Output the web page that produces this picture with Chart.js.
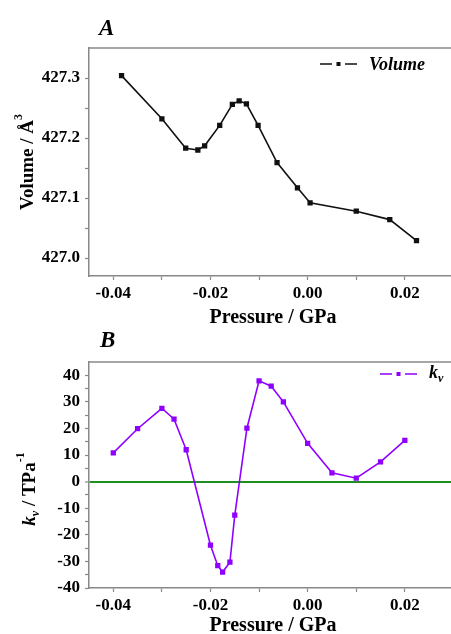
<!DOCTYPE html>
<html>
<head>
<meta charset="utf-8">
<script src="https://cdn.jsdelivr.net/npm/chart.js@4.4.1/dist/chart.umd.min.js"></script>
<style>
    html, body { margin: 0; padding: 0; background: #fff; }
    body { width: 451px; height: 634px; position: relative; overflow: hidden; }
    canvas { position: absolute; left: 0; }
    #chartA { top: 0; }
    #chartB { top: 328px; }
</style>
</head>
<body>
<canvas id="chartA" width="451" height="328"></canvas>
<canvas id="chartB" width="451" height="306"></canvas>
<script>
// --- Data ---
const pressureA = [-0.0383, -0.0300, -0.0251, -0.0226, -0.0212, -0.0181, -0.0155, -0.0141,
    -0.0126, -0.0102, -0.0063, -0.0021, 0.0005, 0.0100, 0.0169, 0.0224];
const volumeA = [427.304, 427.232, 427.183, 427.180, 427.187, 427.221, 427.256, 427.262,
    427.257, 427.221, 427.159, 427.117, 427.092, 427.078, 427.064, 427.029];

const pressureB = [-0.040, -0.035, -0.030, -0.0275, -0.025, -0.020, -0.0185, -0.0175, -0.016, -0.015,
    -0.0125, -0.010, -0.0075, -0.005, 0.000, 0.005, 0.010, 0.015, 0.020];
const kvB = [10.8, 19.9, 27.6, 23.5, 12.0, -23.9, -31.6, -34.0, -30.3, -12.6,
    20.1, 37.9, 35.9, 30.0, 14.4, 3.3, 1.3, 7.4, 15.5];

const xTickVals = [-0.04, -0.03, -0.02, -0.01, 0, 0.01, 0.02];
const xTickLabels = ['-0.04', '', '-0.02', '', '0.00', '', '0.02'];
const yTickValsA = [427.0, 427.05, 427.1, 427.15, 427.2, 427.25, 427.3];
const yTickLabelsA = ['427.0', '', '427.1', '', '427.2', '', '427.3'];
const yTickValsB = [-40, -35, -30, -25, -20, -15, -10, -5, 0, 5, 10, 15, 20, 25, 30, 35, 40];
const yTickLabelsB = ['-40', '', '-30', '', '-20', '', '-10', '', '0', '', '10', '', '20', '', '30', '', '40'];

// --- Styles ---
const SERIF = '"Liberation Serif", "Times New Roman", serif';
const AXIS_GRAY = '#888';
const PURPLE = '#9000ff';
const GREEN = '#1f8f1f';

// draws a run of text pieces (for sub/superscripts); centred unless segs.left
function drawRich(ctx, x, y, segs, rot) {
    ctx.save();
    ctx.translate(x, y);
    if (rot) ctx.rotate(rot);
    ctx.textAlign = 'left';
    ctx.textBaseline = 'alphabetic';
    ctx.fillStyle = '#000';
    let total = 0;
    segs.forEach(s => { ctx.font = s.font; s.w = ctx.measureText(s.text).width; total += s.w; });
    let cx = segs.left === true ? 0 : -total / 2;
    segs.forEach(s => { ctx.font = s.font; ctx.fillText(s.text, cx, s.dy || 0); cx += s.w; });
    ctx.restore();
}

function legendSample(ctx, x0, y, color) {
    ctx.save();
    ctx.strokeStyle = color;
    ctx.fillStyle = color;
    ctx.lineWidth = 1.6;
    ctx.beginPath();
    ctx.moveTo(x0, y); ctx.lineTo(x0 + 12, y);
    ctx.moveTo(x0 + 25, y); ctx.lineTo(x0 + 37, y);
    ctx.stroke();
    ctx.fillRect(x0 + 16.5, y - 2, 4, 4);
    ctx.restore();
}

function makeDecor(opts) {
    return {
        id: 'decor' + opts.name,
        afterDraw(chart) {
            const ctx = chart.ctx;
            const area = chart.chartArea;
            // top frame line
            ctx.save();
            ctx.strokeStyle = AXIS_GRAY;
            ctx.lineWidth = 1.5;
            ctx.beginPath();
            ctx.moveTo(area.left, area.top);
            ctx.lineTo(area.right, area.top);
            ctx.stroke();
            ctx.restore();
            // panel letter
            const lab = [{ text: opts.name, font: 'italic bold 23px ' + SERIF }];
            lab.left = true;
            drawRich(ctx, opts.letterX, opts.letterY, lab);
            // axis titles
            drawRich(ctx, 273, opts.xTitleY, [{ text: 'Pressure / GPa', font: 'bold 20px ' + SERIF }]);
            drawRich(ctx, opts.yTitleX, opts.yTitleY, opts.yTitle, -Math.PI / 2);
            // legend
            legendSample(ctx, opts.legX, opts.legY, opts.color);
            const lt = opts.legText;
            lt.left = true;
            drawRich(ctx, opts.legX + 49, opts.legY + opts.legDy, lt);
        }
    };
}

function axisOpts(vals, labels, min, max, isX) {
    return {
        type: 'linear',
        min: min,
        max: max,
        afterBuildTicks: s => { s.ticks = vals.map(v => ({ value: v })); },
        ticks: {
            autoSkip: false,
            maxRotation: 0,
            color: '#000',
            padding: isX ? 3 : 5,
            font: { family: SERIF, size: 17, weight: 'bold' },
            callback: (v, i) => labels[i]
        },
        border: { display: true, color: AXIS_GRAY, width: 1.5 },
        grid: { drawOnChartArea: false, drawTicks: true, tickLength: 4, tickColor: AXIS_GRAY, tickWidth: 1.2 }
    };
}

function noPad(s) {
    s.paddingLeft = 0; s.paddingRight = 0; s.paddingTop = 0; s.paddingBottom = 0;
}

// --- Chart A ---
const xA = axisOpts(xTickVals, xTickLabels, -0.045, 0.0295, true);
xA.afterFit = s => { s.height = 52; noPad(s); };
const yA = axisOpts(yTickValsA, yTickLabelsA, 426.97, 427.35, false);
yA.afterFit = s => { s.width = 89; noPad(s); };

new Chart(document.getElementById('chartA'), {
    type: 'line',
    data: {
        datasets: [{
            label: 'Volume',
            data: pressureA.map((p, i) => ({ x: p, y: volumeA[i] })),
            borderColor: '#111',
            backgroundColor: '#111',
            borderWidth: 1.6,
            pointStyle: 'rect',
            pointRadius: 2.6,
            tension: 0
        }]
    },
    options: {
        responsive: false,
        animation: false,
        layout: { autoPadding: false, padding: { top: 48, left: 0, right: 0, bottom: 0 } },
        plugins: { legend: { display: false }, tooltip: { enabled: false } },
        scales: { x: xA, y: yA }
    },
    plugins: [makeDecor({
        name: 'A', letterX: 99, letterY: 35, xTitleY: 323,
        yTitleX: 33, yTitleY: 162,
        yTitle: [
            { text: 'Volume / Å', font: 'bold 19px ' + SERIF },
            { text: '3', font: 'bold 12px ' + SERIF, dy: -11 }
        ],
        legX: 320, legY: 64, legDy: 5.5, color: '#111',
        legText: [{ text: 'Volume', font: 'italic bold 18px ' + SERIF }]
    })]
});

// --- Chart B ---
const xB = axisOpts(xTickVals, xTickLabels, -0.045, 0.0295, true);
xB.afterFit = s => { s.height = 46; noPad(s); };
const yB = axisOpts(yTickValsB, yTickLabelsB, -40, 45, false);
yB.afterFit = s => { s.width = 89; noPad(s); };
yB.grid.drawOnChartArea = true;
yB.grid.color = c => (c.tick && c.tick.value === 0) ? GREEN : 'rgba(0,0,0,0)';
yB.grid.lineWidth = c => (c.tick && c.tick.value === 0) ? 2 : 1;

new Chart(document.getElementById('chartB'), {
    type: 'line',
    data: {
        datasets: [{
            label: 'kv',
            data: pressureB.map((p, i) => ({ x: p, y: kvB[i] })),
            borderColor: PURPLE,
            backgroundColor: PURPLE,
            borderWidth: 1.6,
            pointStyle: 'rect',
            pointRadius: 2.6,
            tension: 0
        }]
    },
    options: {
        responsive: false,
        animation: false,
        layout: { autoPadding: false, padding: { top: 34, left: 0, right: 0, bottom: 0 } },
        plugins: { legend: { display: false }, tooltip: { enabled: false } },
        scales: { x: xB, y: yB }
    },
    plugins: [makeDecor({
        name: 'B', letterX: 100, letterY: 19, xTitleY: 303,
        yTitleX: 35, yTitleY: 161,
        yTitle: [
            { text: 'k', font: 'italic bold 19px ' + SERIF },
            { text: 'v', font: 'italic bold 12px ' + SERIF, dy: 4 },
            { text: ' / TPa', font: 'bold 19px ' + SERIF },
            { text: '-1', font: 'bold 12px ' + SERIF, dy: -11 }
        ],
        legX: 380, legY: 46, legDy: 4, color: PURPLE,
        legText: [
            { text: 'k', font: 'italic bold 18px ' + SERIF },
            { text: 'v', font: 'italic bold 12px ' + SERIF, dy: 4 }
        ]
    })]
});
</script>
</body>
</html>
